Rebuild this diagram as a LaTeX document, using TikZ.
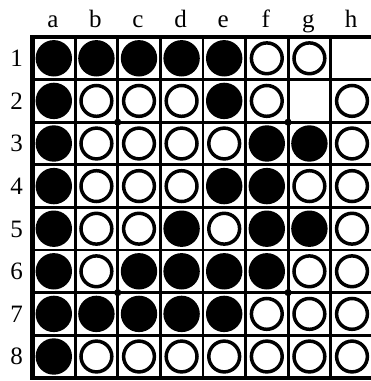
\documentclass[tikz,border=0pt]{standalone}
\usepackage{fontspec}
\setmainfont{Liberation Serif}
\begin{document}
\begin{tikzpicture}[x=1pt,y=-1pt,
  lbl/.style={font=\fontsize{25}{25}\selectfont, anchor=base, inner sep=0pt},
  wht/.style={draw=black, line width=3.5pt, fill=white},
  gridline/.style={line width=2.8pt},
  frame/.style={line width=4.5pt}]
\useasboundingbox (0,0) rectangle (371,381);
\clip (0,0) rectangle (371,381);
\def\cs{42.6}
\def\ox{32.5}
\def\oy{37}
\foreach \i in {1,...,7} {
  \draw[gridline] ({\ox+\i*\cs},\oy) -- ({\ox+\i*\cs},{\oy+8*\cs});
  \draw[gridline] (\ox,{\oy+\i*\cs}) -- ({\ox+8*\cs},{\oy+\i*\cs});
}
\draw[frame] (\ox,\oy) rectangle ({\ox+8*\cs},{\oy+8*\cs});
% star points
\foreach \a in {2,6} \foreach \b in {2,6}
  \fill ({\ox+\a*\cs},{\oy+\b*\cs}) circle (3.6);
% discs: 1 = black, 2 = white, 0 = empty
\foreach \row [count=\r] in {
  {1,1,1,1,1,2,2,0},
  {1,2,2,2,1,2,0,2},
  {1,2,2,2,2,1,1,2},
  {1,2,2,2,1,1,2,2},
  {1,2,2,1,2,1,1,2},
  {1,2,1,1,1,1,2,2},
  {1,1,1,1,1,2,2,2},
  {1,2,2,2,2,2,2,2}} {
  \foreach \v [count=\c] in \row {
    \ifnum\v=1 \fill ({\ox+(\c-0.5)*\cs},{\oy+(\r-0.5)*\cs}) circle (18.2); \fi
    \ifnum\v=2 \draw[wht] ({\ox+(\c-0.5)*\cs},{\oy+(\r-0.5)*\cs}) circle (15.4); \fi
  }
}
% labels
\foreach \l [count=\c] in {a,b,c,d,e,f,g,h}
  \node[lbl] (col\l) at ({\ox+(\c-0.5)*\cs-1},27.5) {\l};
\foreach \r in {1,...,8}
  \node[lbl] (row\r) at (16.5,{\oy+(\r-0.5)*\cs+8.3}) {\r};
\end{tikzpicture}
\end{document}
